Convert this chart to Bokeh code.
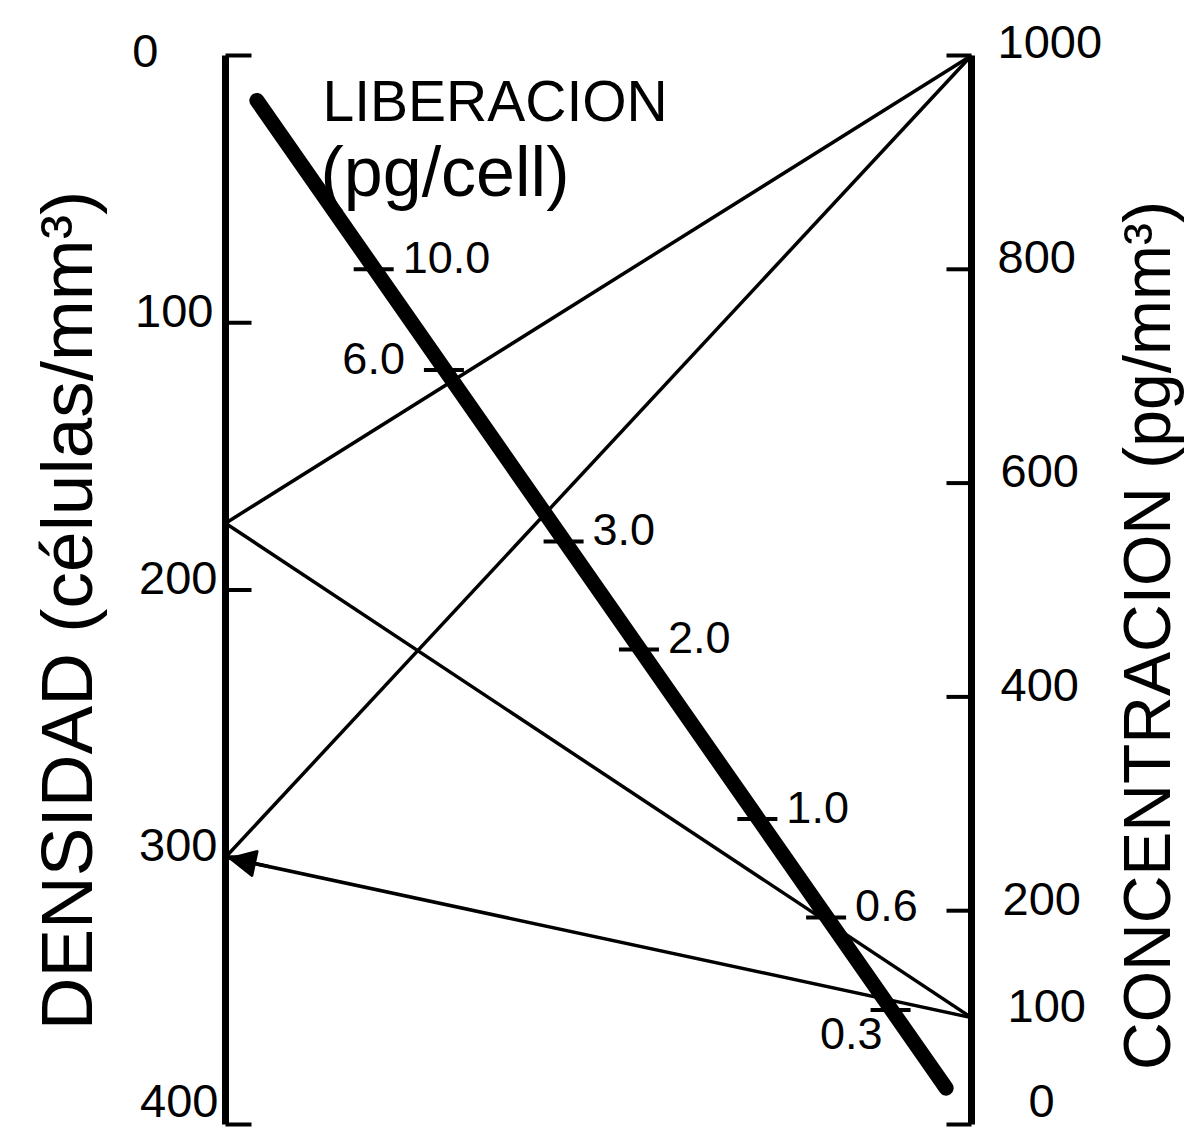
import numpy as np
from bokeh.plotting import figure
from bokeh.models import Range1d, Arrow, NormalHead
from bokeh.core.properties import value
from bokeh.embed import file_html
from bokeh.resources import INLINE

# ---------------- data ----------------
dens_ticks = [0, 100, 200, 300, 400]
dens_labels = ["0", "100", "200", "300", "400"]
conc_ticks = [0, 200, 400, 600, 800, 1000]
conc_label_vals = [0, 100, 200, 400, 600, 800, 1000]
conc_labels = ["0", "100", "200", "400", "600", "800", "1000"]
lib_vals = [10.0, 6.0, 3.0, 2.0, 1.0, 0.6, 0.3]
lib_labels = ["10.0", "6.0", "3.0", "2.0", "1.0", "0.6", "0.3"]
lib_side = ["right", "left", "right", "right", "right", "right", "below"]
example_dens = [175, 175, 300, 300]
example_conc = [1000, 100, 1000, 100]

DENS_MAX = 400.0
CONC_MAX = 1000.0

# ---------------- layout ----------------
W, H = 1185, 1127
X0, XS = 225.0, 746.0      # canvas px of left scale, px per unit of nomogram width
Y0 = 55.0                  # canvas px of density 0
YS = (1124.0 - Y0) / DENS_MAX   # px per density unit
FONT = "Liberation Sans"


def dx(px):
    return px / XS


def dy(px):
    return px / YS


def cx(px):
    return (px - X0) / XS


def cy(py):
    return (py - Y0) / YS


def conc_pos(c):
    # concentration scale expressed in density-axis coordinates
    return DENS_MAX * (1.0 - np.asarray(c, dtype=float) / CONC_MAX)


def lib_pos(L):
    t = 1.0 / (1.0 + np.asarray(L, dtype=float) * DENS_MAX / CONC_MAX)
    return t, DENS_MAX * t


p = figure(width=W, height=H, output_backend="svg", toolbar_location=None,
           x_range=Range1d(-X0 / XS, (W - X0) / XS),
           y_range=Range1d(start=(H - Y0) / YS, end=-Y0 / YS),
           min_border=0, x_axis_type=None, y_axis_type=None)
p.grid.visible = False
p.outline_line_color = None
p.background_fill_color = "white"
p.border_fill_color = "white"

# example isopleths
p.segment(x0=[0] * len(example_dens), y0=example_dens,
          x1=[1] * len(example_conc), y1=list(conc_pos(example_conc)),
          line_color="black", line_width=3.5)

# arrowhead where the 300 -> 100 isopleth meets the density scale
y_far = float(conc_pos(example_conc[3]))
t_a = 0.06
p.add_layout(Arrow(end=NormalHead(size=26, fill_color="black", line_color="black",
                                  line_width=2),
                   x_start=t_a, y_start=example_dens[3] + t_a * (y_far - example_dens[3]),
                   x_end=dx(4), y_end=example_dens[3] + dx(4) * (y_far - example_dens[3]),
                   line_color="black", line_width=3.5))

# liberation scale (thick diagonal)
T_START, T_END = 0.042, 0.966
p.line(x=[T_START, T_END], y=[DENS_MAX * T_START, DENS_MAX * T_END],
       line_color="black", line_width=15, line_cap="round")

lt, ly = lib_pos(lib_vals)
p.segment(x0=list(lt - dx(21)), y0=list(ly), x1=list(lt + dx(19)), y1=list(ly),
          line_color="black", line_width=4)

lx, lyy, la = [], [], []
for t, y, s in zip(lt, ly, lib_side):
    if s == "right":
        lx.append(t + dx(28)); lyy.append(y - dy(12)); la.append("left")
    elif s == "left":
        lx.append(t - dx(40)); lyy.append(y - dy(11)); la.append("right")
    else:
        lx.append(t - dx(9)); lyy.append(y + dy(24)); la.append("right")
p.text(x=lx, y=lyy, text=lib_labels, text_align=la, text_baseline="middle",
       text_font=value(FONT), text_font_size="45px", text_color="black")

# density scale (left)
p.segment(x0=[0], y0=[0], x1=[0], y1=[DENS_MAX], line_color="black", line_width=7)
p.segment(x0=[0] * len(dens_ticks), y0=dens_ticks,
          x1=[dx(26)] * len(dens_ticks), y1=dens_ticks,
          line_color="black", line_width=4)
dens_dx = [-67, -12, -8, -8, -7]
dens_dy = [-5, -12, -12, -12, -24]
p.text(x=[dx(d) for d in dens_dx], y=[v + dy(e) for v, e in zip(dens_ticks, dens_dy)],
       text=dens_labels, text_align="right", text_baseline="middle",
       text_font=value(FONT), text_font_size="47px", text_color="black")

# concentration scale (right)
p.segment(x0=[1], y0=[float(conc_pos(0))], x1=[1], y1=[float(conc_pos(CONC_MAX))],
          line_color="black", line_width=7)
p.segment(x0=[1] * len(conc_ticks), y0=list(conc_pos(conc_ticks)),
          x1=[1 - dx(25)] * len(conc_ticks), y1=list(conc_pos(conc_ticks)),
          line_color="black", line_width=4)
conc_dx = [57, 36, 31, 29, 29, 26, 26]
conc_dy = [-24, -12, -12, -12, -12, -12, -14]
p.text(x=[1 + dx(d) for d in conc_dx],
       y=[v + dy(e) for v, e in zip(conc_pos(conc_label_vals), conc_dy)],
       text=conc_labels, text_align="left", text_baseline="middle",
       text_font=value(FONT), text_font_size="47px", text_color="black")

# titles
p.text(x=[cx(322)], y=[cy(100)], text=["LIBERACION"], text_align="left",
       text_baseline="middle", text_font=value(FONT), text_font_size="57px",
       text_color="black")
p.text(x=[cx(320)], y=[cy(171)], text=["(pg/cell)"], text_align="left",
       text_baseline="middle", text_font=value(FONT), text_font_size="70px",
       text_color="black")
p.text(x=[cx(66)], y=[cy(610)], text=["DENSIDAD (células/mm³)"],
       angle=np.pi / 2, text_align="center", text_baseline="middle",
       text_font=value(FONT), text_font_size="73px", text_color="black")
p.text(x=[cx(1146)], y=[cy(635)], text=["CONCENTRACION (pg/mm³)"],
       angle=np.pi / 2, text_align="center", text_baseline="middle",
       text_font=value(FONT), text_font_size="66px", text_color="black")

open("out.html", "w").write(file_html(p, INLINE))
